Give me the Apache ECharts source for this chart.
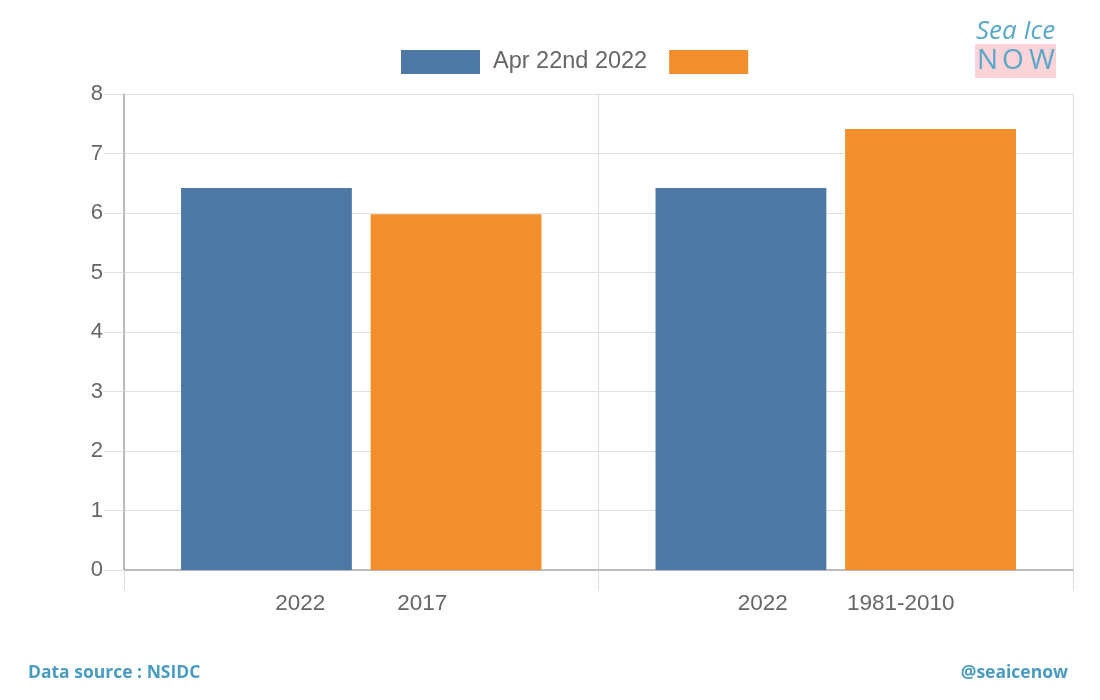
<!DOCTYPE html>
<html><head><meta charset="utf-8">
<script src="https://cdn.jsdelivr.net/npm/echarts@6/dist/echarts.min.js"></script>
<style>html,body{margin:0;padding:0;background:#fff}#c{width:1100px;height:700px}</style>
</head><body><div id="c"></div>
<script>
const categories = ['grp1', 'grp2'];
const leftLabels = ['2022', '2022'];
const rightLabels = ['2017', '1981-2010'];
const seriesNames = ['Apr 22nd 2022', ' '];
const current = [6.42, 6.42];
const comparison = [5.98, 7.41];
const yTicks = [0, 1, 2, 3, 4, 5, 6, 7, 8];

const chart = echarts.init(document.getElementById('c'));
const axisFont = {fontFamily: 'Liberation Sans, Arial, sans-serif', fontSize: 22, color: '#666'};
chart.setOption({
  animation: false,
  grid: {left: 124, right: 27, top: 94, bottom: 130, containLabel: false},
  legend: {
    left: 401, top: 50, padding: 0, itemWidth: 79, itemHeight: 24, itemGap: 22,
    icon: 'rect',
    textStyle: {fontFamily: 'Liberation Sans, Arial, sans-serif', fontSize: 23.5, color: '#666', padding: [2,0,0,8]},
    data: seriesNames
  },
  xAxis: {
    type: 'category', data: categories,
    axisLine: {lineStyle: {color: '#aaa', width: 1.5}},
    axisTick: {show: true, length: 20, lineStyle: {color: '#ddd'}},
    splitLine: {show: true, lineStyle: {color: '#ddd'}},
    axisLabel: {
      margin: 22,
      formatter: function (v, i) {
        return i === 0 ? '{a|' + leftLabels[i] + '}{b|' + rightLabels[i] + '}'
                       : '{c|' + leftLabels[i] + '}{d|' + rightLabels[i] + '}';
      },
      rich: {
        a: Object.assign({width: 122, align: 'center'}, axisFont, {fontSize: 22.5}),
        b: Object.assign({width: 122, align: 'center'}, axisFont, {fontSize: 22.5}),
        c: Object.assign({width: 130, align: 'center'}, axisFont, {fontSize: 22.5}),
        d: Object.assign({width: 146, align: 'center'}, axisFont, {fontSize: 22.5})
      }
    }
  },
  yAxis: {
    type: 'value', min: yTicks[0], max: yTicks[yTicks.length - 1], interval: 1,
    axisLine: {show: true, lineStyle: {color: '#aaa', width: 1.5}},
    axisTick: {show: true, length: 20, lineStyle: {color: '#e0e0e0'}},
    splitLine: {lineStyle: {color: '#e0e0e0'}},
    axisLabel: Object.assign({margin: 21}, axisFont)
  },
  series: [
    {name: seriesNames[0], type: 'bar', data: current, barWidth: '36%', barGap: '11%',
     itemStyle: {color: '#4e79a7'}},
    {name: seriesNames[1], type: 'bar', data: comparison, barWidth: '36%',
     itemStyle: {color: '#f28e2b'}}
  ],
  graphic: [
    {type: 'text', left: 976, top: 19, style: {text: 'Sea Ice', font: 'italic 26px "Open Sans"', fill: '#5aa8c8'}},
    {type: 'rect', shape: {x: 975, y: 44, width: 81, height: 34}, style: {fill: '#fcd3d8'}},
    {type: 'text', left: 977, top: 47, style: {text: 'N', font: '28px "Open Sans"', fill: '#5aa8c8'}},
    {type: 'text', left: 1002, top: 47, style: {text: 'O', font: '28px "Open Sans"', fill: '#5aa8c8'}},
    {type: 'text', left: 1029, top: 47, style: {text: 'W', font: '28px "Open Sans"', fill: '#5aa8c8'}},
    {type: 'text', left: 28, top: 664, style: {text: 'Data source : NSIDC', font: 'bold 17.5px "Open Sans"', fill: '#4a9bc0'}},
    {type: 'text', right: 32, top: 664, style: {text: '@seaicenow', font: 'bold 17.5px "Open Sans"', fill: '#4a9bc0'}}
  ]
});
</script></body></html>
